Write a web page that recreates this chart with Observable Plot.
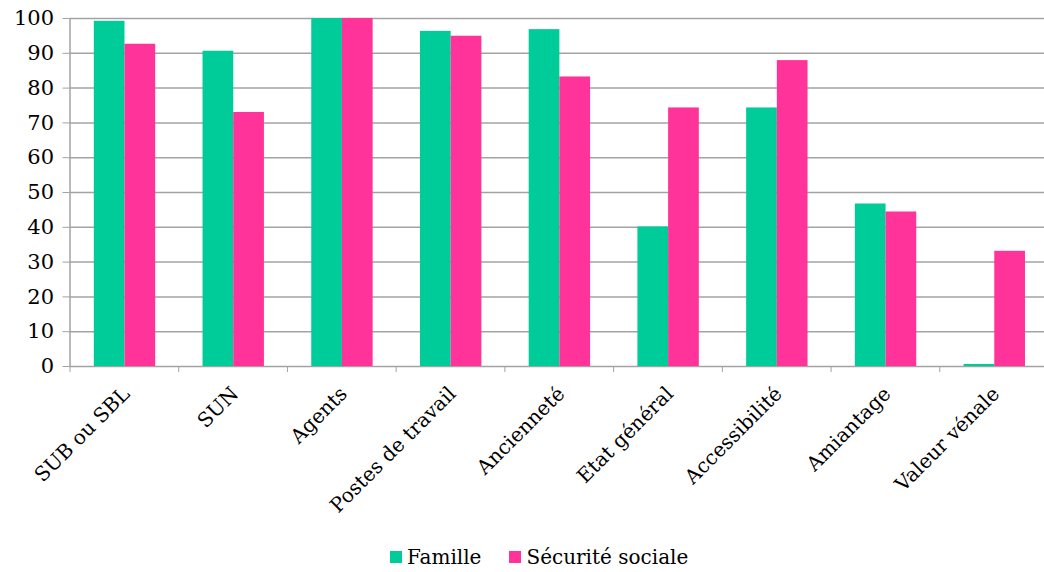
<!DOCTYPE html>
<html>
<head>
<meta charset="utf-8">
<script src="https://cdn.jsdelivr.net/npm/d3@7"></script>
<script src="https://cdn.jsdelivr.net/npm/@observablehq/plot@0.6"></script>
<style>
  html, body { margin: 0; padding: 0; background: #fff; }
  #wrap { position: relative; width: 1044px; height: 572px; overflow: hidden; }
  #legend { position: absolute; left: 390px; top: 545px; display: flex; align-items: center;
            font-family: "DejaVu Serif", serif; font-size: 20px; color: #000; }
  .item { display: flex; align-items: center; margin-right: 28px; }
  .sw { width: 12px; height: 12px; margin-right: 5px; }
</style>
</head>
<body>
<div id="wrap"><div id="chart"></div><div id="legend"></div></div>
<script>
const categories = ["SUB ou SBL", "SUN", "Agents", "Postes de travail", "Ancienneté", "Etat général", "Accessibilité", "Amiantage", "Valeur vénale"];
const series = ["Famille", "Sécurité sociale"];
const famille = [99.2, 90.6, 100, 96.3, 96.8, 40.1, 74.3, 46.7, 0.6];
const securite = [92.6, 73.0, 100, 94.9, 83.2, 74.3, 87.9, 44.4, 33.1];
const yTicks = [0, 10, 20, 30, 40, 50, 60, 70, 80, 90, 100];
const colors = ["#00CC99", "#FF3399"];

const rowsF = categories.map((c, i) => ({cat: c, series: series[0], value: famille[i]}));
const rowsS = categories.map((c, i) => ({cat: c, series: series[1], value: securite[i]}));

const W = 1044, ML = 69.5, MR = -4;
const bw = (W - ML - MR) / categories.length;
const barW = 30.7;
const gray = "#a3a3a3";

const chart = Plot.plot({
  width: W,
  height: 530,
  marginTop: 18,
  marginBottom: 164,
  marginLeft: ML,
  marginRight: MR,
  x: {domain: categories, padding: 0, round: false, label: null},
  y: {domain: [0, 100], label: null},
  color: {domain: series, range: colors},
  style: {fontFamily: "DejaVu Serif", fontSize: "20px", color: "#000", background: "#fff", overflow: "hidden"},
  marks: [
    Plot.gridY(yTicks, {stroke: gray, strokeOpacity: 1, strokeWidth: 1.5}),
    Plot.barY(rowsF, {x: "cat", y: "value", fill: "series", insetLeft: 24.3, insetRight: bw - 24.3 - barW}),
    Plot.barY(rowsS, {x: "cat", y: "value", fill: "series", insetLeft: 55, insetRight: bw - 55 - barW}),
    Plot.ruleX([categories[0]], {y1: 0, y2: 100, dx: -bw / 2, stroke: gray, strokeWidth: 1.5}),
    Plot.axisY({ticks: yTicks, tickSize: 7, tickPadding: 9, stroke: gray, fill: "#000", label: null, fontSize: 21}),
    Plot.axisX({ticks: categories, tickSize: 6, tickFormat: () => "", dx: -bw / 2, stroke: gray, label: null}),
    Plot.axisX({ticks: categories, tickSize: 0, tickRotate: -45, tickPadding: 24, dx: 2, fill: "#000", label: null})
  ]
});
document.getElementById("chart").appendChild(chart);

const leg = document.getElementById("legend");
series.forEach((s, i) => {
  const it = document.createElement("div");
  it.className = "item";
  const sw = document.createElement("div");
  sw.className = "sw";
  sw.style.background = colors[i];
  const t = document.createElement("span");
  t.textContent = s;
  it.appendChild(sw); it.appendChild(t);
  leg.appendChild(it);
});
</script>
</body>
</html>
